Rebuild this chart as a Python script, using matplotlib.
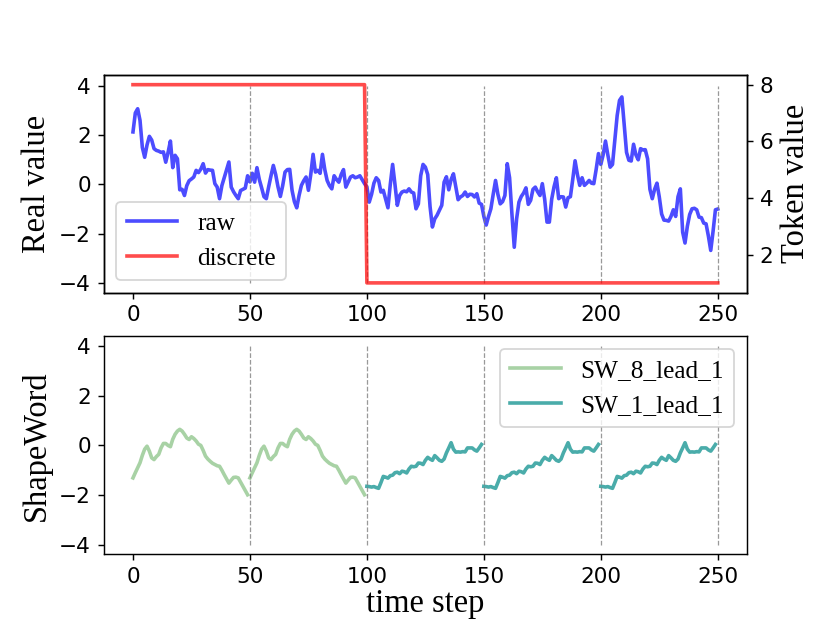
import numpy as np
import matplotlib
matplotlib.use("Agg")
import matplotlib.pyplot as plt

# raw series, one value per time step 0..250
raw = [2.13, 2.9, 3.07, 2.6, 1.5, 1.1, 1.6, 1.95, 1.8, 1.45,
       1.38, 1.35, 1.3, 1.32, 0.9, 1.3, 1.76, 0.68, 1.18, 1.04,
       -0.22, -0.2, -0.45, -0.05, 0.15, 0.22, 0.3, 0.57, 0.48, 0.62,
       0.84, 0.46, 0.6, 0.58, 0.57, 0.03, -0.11, -0.58, -0.05, 0.27,
       0.6, 0.91, -0.11, -0.3, -0.45, -0.58, -0.25, -0.2, -0.15, 0.35,
       0.1, 0.45, 0.09, 0.68, 0.2, -0.14, -0.5, -0.58, -0.1, 0.35,
       0.77, 0.4, -0.1, -0.49, -0.05, 0.5, 0.6, 0.61, -0.24, -0.7,
       -0.95, -0.45, -0.04, 0.15, 0.3, -0.24, 0.4, 1.22, 0.5, 0.57,
       0.45, 1.22, 0.6, 0.16, -0.05, -0.18, 0.35, 0.2, 0.09, 0.4,
       0.6, -0.11, 0.1, 0.3, 0.35, 0.27, 0.3, 0.35, 0.19, 0.03,
       -0.1, -0.72, -0.4, 0.05, 0.27, 0.16, -0.31, -0.24, -0.6, -0.95,
       0.0, 0.81, 0.0, -0.85, -0.45, -0.31, -0.27, -0.3, -0.18, -0.31,
       -0.35, -0.99, -0.79, 0.35, 0.81, 0.7, 0.4, -0.9, -1.73, -1.4,
       -1.25, -1.05, -0.85, 0.09, 0.31, -0.22, 0.2, 0.43, -0.1, -0.62,
       -0.51, -0.45, -0.31, -0.49, -0.4, -0.41, -0.51, -0.38, -0.76, -0.81,
       -1.3, -1.65, -1.3, -0.99, -0.4, 0.16, -0.4, -0.79, -0.7, -0.45,
       0.84, 0.27, -1.2, -2.55, -1.4, -0.72, -0.49, -0.35, -0.14, -0.81,
       -0.65, -0.2, -0.11, -0.3, -0.45, 0.03, -0.6, -1.53, -1.53, -0.6,
       -0.1, 0.27, -0.58, -0.5, -0.51, -0.92, -0.54, -0.5, 0.2, 0.96,
       0.4, -0.04, 0.27, -0.04, 0.05, 0.16, 0.05, 0.03, 0.6, 1.25,
       0.81, 1.2, 1.76, 1.2, 0.7, 0.81, 1.8, 2.8, 3.41, 3.55,
       2.4, 1.3, 0.98, 0.95, 1.63, 1.2, 1.0, 1.45, 1.4, 1.41,
       1.04, -0.2, -0.58, -0.2, 0.05, -0.51, -1.2, -1.45, -1.46, -1.49,
       -1.3, -1.03, -1.3, -0.5, -0.18, -1.94, -2.38, -1.7, -1.22, -0.99,
       -0.97, -1.03, -1.33, -1.35, -1.57, -1.6, -2.1, -2.68, -1.9, -1.03,
       -1.0]

# discrete token per step
token_before, token_after, switch_at = 8, 1, 100

# shape word windows (50 steps each), repeated in the picture
sw8_window = [-1.31, -1.1, -0.9, -0.7, -0.4, -0.15, -0.03, -0.23, -0.5, -0.57,
              -0.45, -0.36, -0.1, 0.08, 0.08, 0.0, -0.05, 0.25, 0.45, 0.58,
              0.65, 0.58, 0.45, 0.3, 0.24, 0.35, 0.28, 0.18, 0.05, 0.0,
              -0.2, -0.43, -0.55, -0.64, -0.72, -0.77, -0.82, -0.84, -1.0, -1.18,
              -1.35, -1.52, -1.4, -1.29, -1.28, -1.31, -1.48, -1.65, -1.82, -1.99]
sw1_window = [-1.65, -1.66, -1.68, -1.66, -1.7, -1.73, -1.5, -1.25, -1.28, -1.32,
              -1.22, -1.2, -1.1, -1.08, -1.14, -1.04, -1.06, -1.11, -0.95, -0.84,
              -0.86, -0.84, -0.71, -0.72, -0.77, -0.6, -0.48, -0.55, -0.6, -0.41,
              -0.5, -0.6, -0.64, -0.55, -0.3, -0.1, 0.11, -0.15, -0.27, -0.26,
              -0.27, -0.25, -0.26, -0.1, -0.1, -0.1, -0.18, -0.23, -0.1, 0.04]
sw8_starts = [0, 50]
sw1_starts = [100, 150, 200]
borders = [50, 100, 150, 200, 250]

serif = "Liberation Serif"

t = np.arange(len(raw))
tokens = np.where(t < switch_at, token_before, token_after)

fig, (ax1, ax2) = plt.subplots(2, 1, figsize=(830 / 130, 623 / 130), dpi=130)

l1, = ax1.plot(t, raw, color="blue", alpha=0.7, lw=2, label="raw")
ax1.set_ylim(-4.4, 4.45)
ax1.set_yticks([-4, -2, 0, 2, 4])
ax1.set_ylabel("Real value", family=serif, fontsize=18)
for b in borders:
    ax1.vlines(b, -4, 4, colors="gray", linestyles="--", lw=0.7, alpha=0.8)
axr = ax1.twinx()
l2, = axr.plot(t, tokens, color="red", alpha=0.7, lw=2, label="discrete")
axr.set_ylabel("Token value", family=serif, fontsize=18)
axr.set_yticks([2, 4, 6, 8])
ax1.legend(handles=[l1, l2], loc="lower left", prop={"family": serif, "size": 14})

for i, s in enumerate(sw8_starts):
    ax2.plot(s + np.arange(len(sw8_window)), sw8_window, color="#a8d2a5", lw=2,
             label="SW_8_lead_1" if i == 0 else None)
for i, s in enumerate(sw1_starts):
    ax2.plot(s + np.arange(len(sw1_window)), sw1_window, color="#4aacaa", lw=2,
             label="SW_1_lead_1" if i == 0 else None)
for b in borders:
    ax2.vlines(b, -4, 4, colors="gray", linestyles="--", lw=0.7, alpha=0.8)
ax2.set_ylim(-4.4, 4.4)
ax2.set_xlim(ax1.get_xlim())
ax2.set_yticks([-4, -2, 0, 2, 4])
ax2.set_ylabel("ShapeWord", family=serif, fontsize=18)
ax2.set_xlabel("time step", family=serif, fontsize=18, labelpad=1)
ax2.legend(loc="upper right", prop={"family": serif, "size": 14})

for ax in (ax1, ax2, axr):
    ax.tick_params(labelsize=12)

fig.savefig("out.png", dpi=130)
